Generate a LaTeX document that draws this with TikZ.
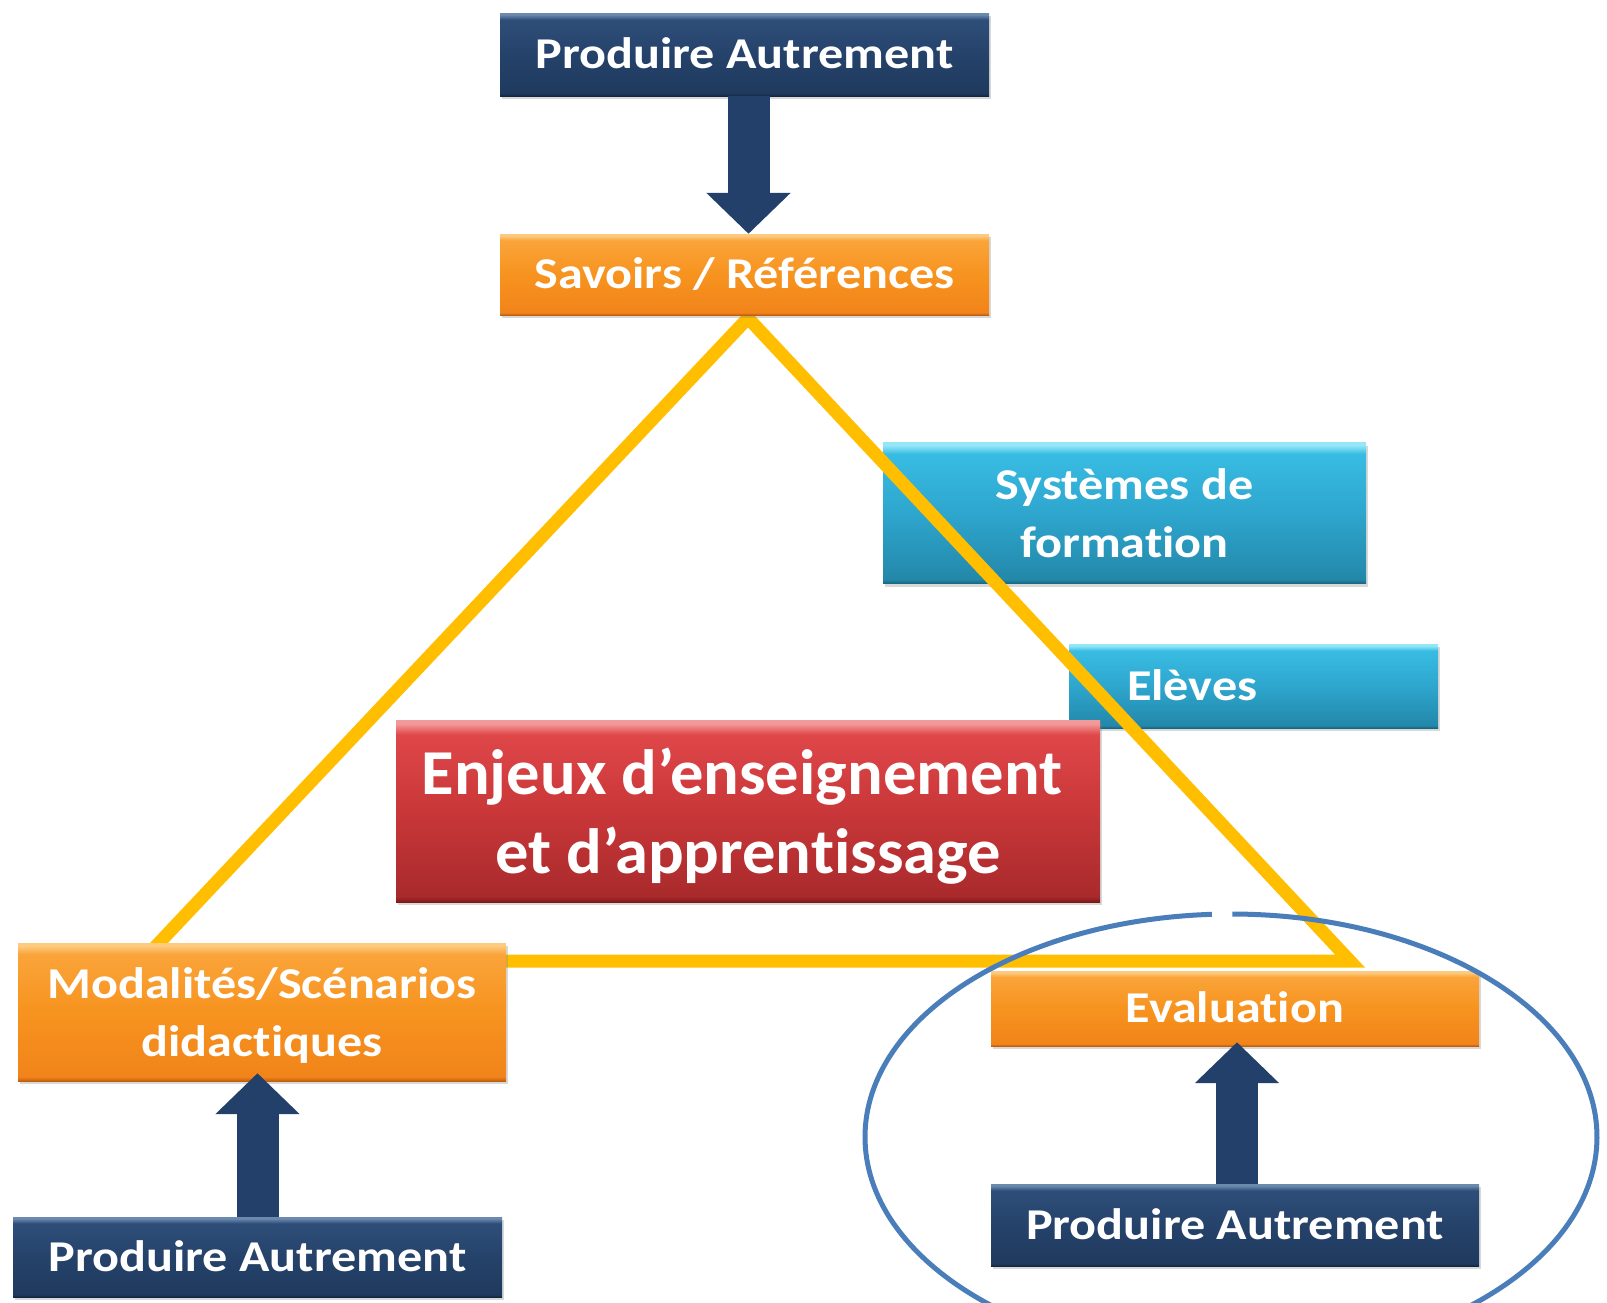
\documentclass[tikz,border=0pt]{standalone}
\usepackage{fontspec}
\setmainfont{Carlito}[FakeStretch=1.14, Ligatures=NoCommon]
\newfontfamily\bigfont{Carlito}[FakeStretch=1.04, Ligatures=NoCommon]
\usetikzlibrary{arrows.meta,shadows}
\definecolor{triY}{HTML}{FFBF00}
\definecolor{ellB}{HTML}{4A7EBB}
\definecolor{navyC}{HTML}{23406A}
% orange
\definecolor{oTop}{HTML}{FDCB80}
\definecolor{oHi}{HTML}{FAA43A}
\definecolor{oMid}{HTML}{F7931F}
\definecolor{oLow}{HTML}{F1841A}
\definecolor{oBot}{HTML}{C0600E}
% navy
\definecolor{nTop}{HTML}{6C89AE}
\definecolor{nHi}{HTML}{2E4E79}
\definecolor{nMid}{HTML}{25426A}
\definecolor{nLow}{HTML}{1F3A5E}
\definecolor{nBot}{HTML}{122640}
% blue
\definecolor{bTop}{HTML}{95E6F7}
\definecolor{bHi}{HTML}{38BCE3}
\definecolor{bMid}{HTML}{2EA6CE}
\definecolor{bLow}{HTML}{2388AA}
\definecolor{bBot}{HTML}{176680}
% red
\definecolor{rTop}{HTML}{F29A9A}
\definecolor{rHi}{HTML}{DF4749}
\definecolor{rMid}{HTML}{C93739}
\definecolor{rLow}{HTML}{A92A2C}
\definecolor{rBot}{HTML}{7E1719}
\pgfdeclareverticalshading{orangebev}{100bp}{color(0bp)=(oBot); color(25bp)=(oBot); color(26.5bp)=(oLow); color(50bp)=(oMid); color(71bp)=(oHi); color(74bp)=(oTop); color(100bp)=(oTop)}
\pgfdeclareverticalshading{navybev}{100bp}{color(0bp)=(nBot); color(25bp)=(nBot); color(26.5bp)=(nLow); color(50bp)=(nMid); color(71bp)=(nHi); color(74bp)=(nTop); color(100bp)=(nTop)}
\pgfdeclareverticalshading{bluebev}{100bp}{color(0bp)=(bBot); color(25bp)=(bBot); color(26.5bp)=(bLow); color(50bp)=(bMid); color(71bp)=(bHi); color(74bp)=(bTop); color(100bp)=(bTop)}
\pgfdeclareverticalshading{redbev}{100bp}{color(0bp)=(rBot); color(25bp)=(rBot); color(26.5bp)=(rLow); color(50bp)=(rMid); color(71bp)=(rHi); color(74bp)=(rTop); color(100bp)=(rTop)}
\tikzset{
  box/.style={rectangle, inner sep=0pt, text=white, align=center,
    font=\fontsize{44}{58}\selectfont\bfseries,
    drop shadow={shadow xshift=2pt, shadow yshift=-3pt, opacity=0.3}},
  oneline/.style={text height=28pt, text depth=0pt},
  navybox/.style={box, shading=navybev},
  orangebox/.style={box, shading=orangebev},
  bluebox/.style={box, shading=bluebev},
  redbox/.style={box, shading=redbev, font=\bigfont\fontsize{64}{79}\selectfont\bfseries},
  blockarrow/.style={draw=navyC, line width=42pt, -{Triangle[width=82pt,length=41pt]}},
  tri/.style={draw=triY, line width=13pt, line join=miter},
  ell/.style={draw=ellB, line width=5pt}
}
\begin{document}
\begin{tikzpicture}[x=1pt, y=-1pt]
\clip (0,0) rectangle (1607,1302);
\fill[white] (0,0) rectangle (1607,1302);

% blue boxes
\node[bluebox, text depth=0pt, minimum width=483pt, minimum height=141pt] (sys) at (1124.5,513) {Systèmes de\\formation};
\node[bluebox, oneline, minimum width=369pt, minimum height=84pt, text width=369pt, align=left] (elv) at (1253.5,686) {\hspace*{58pt}Elèves};

% red box
\node[redbox, text depth=0pt, minimum width=704pt, minimum height=182pt] (enj) at (748,811) {Enjeux d’enseignement\hspace*{12pt}\\et d’apprentissage};

% triangle
\coordinate (apex) at (748,318);
\coordinate (lc) at (142,961);
\coordinate (rc) at (1350,961);
\draw[tri] (apex) -- (lc) -- (rc) -- cycle;

% orange boxes
\node[orangebox, oneline, minimum width=489pt, minimum height=81pt] (sav) at (744.5,274.5) {Savoirs / Références};
\node[orangebox, text depth=0pt, minimum width=488pt, minimum height=138pt] (mod) at (262,1012) {Modalités/Scénarios\\didactiques};
\node[orangebox, oneline, minimum width=488pt, minimum height=75pt] (eva) at (1235,1008.5) {Evaluation};

% navy boxes
\node[navybox, oneline, minimum width=489pt, minimum height=83pt] (pa1) at (744.5,54.5) {Produire Autrement};
\node[navybox, oneline, minimum width=489pt, minimum height=80pt] (pa2) at (257.5,1257) {Produire Autrement};
\node[navybox, oneline, minimum width=488pt, minimum height=82pt] (pa3) at (1235,1225) {Produire Autrement};

% block arrows
\draw[blockarrow] ([xshift=4pt]pa1.south) -- ([xshift=4pt]sav.north);
\draw[blockarrow] (pa2.north) -- ([yshift=8pt]pa2.north |- mod.south);
\draw[blockarrow] ([xshift=2pt]pa3.north) -- ([xshift=2pt,yshift=4pt]eva.south);

% ellipse with a small gap at the top
\coordinate (ec) at (1231,1137);
\draw[ell] (ec) ++(270.2:366 and 223) arc[start angle=270.2, end angle=627, x radius=366, y radius=223];
\end{tikzpicture}
\end{document}
